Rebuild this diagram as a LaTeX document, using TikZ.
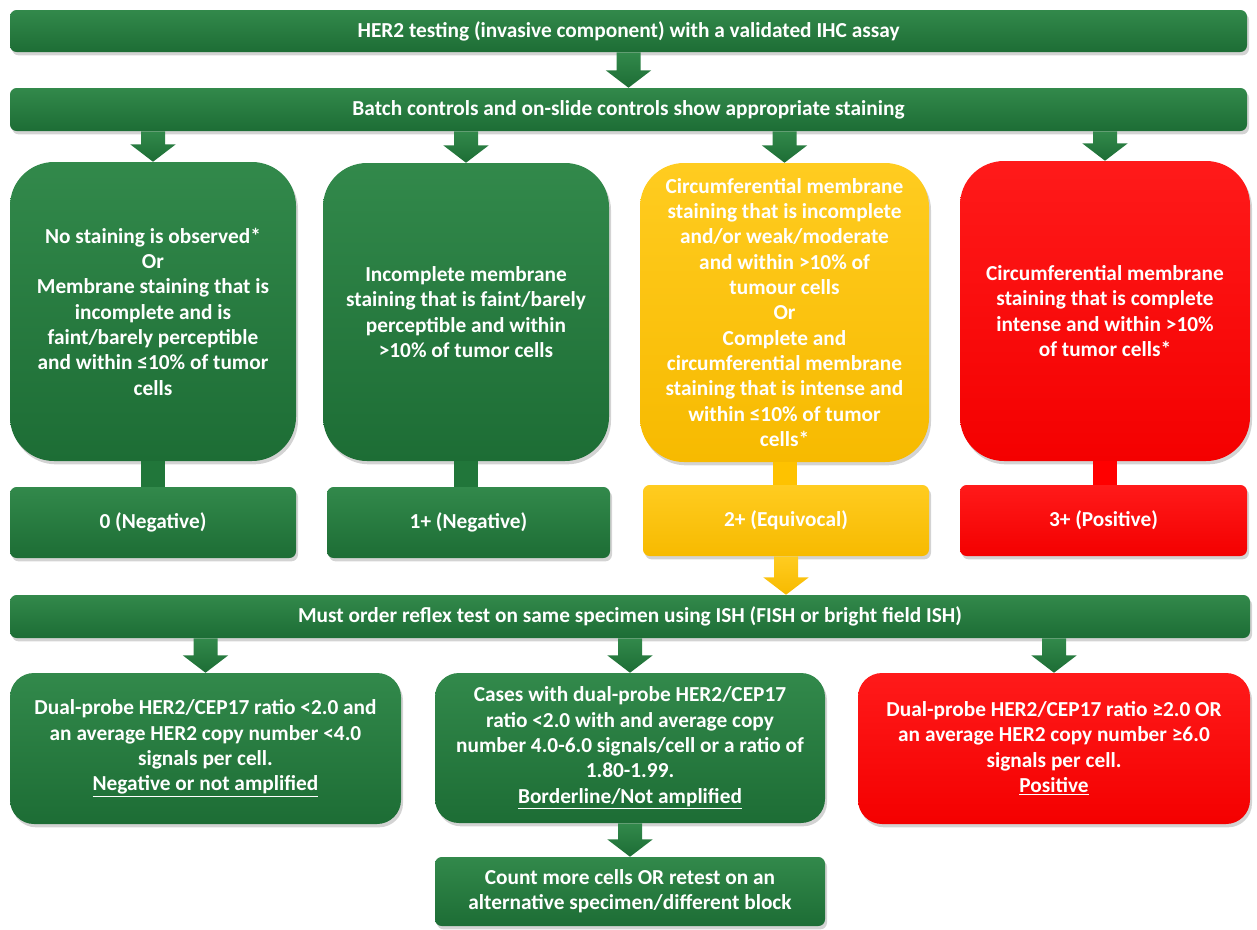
\documentclass[tikz,border=0pt]{standalone}
\usepackage{fontspec}
\setmainfont{Carlito}
\usetikzlibrary{calc,shadows}
\definecolor{gD}{HTML}{1D6D35}
\definecolor{gM}{HTML}{21763A}
\definecolor{gL}{HTML}{32894B}
\definecolor{yD}{HTML}{F7BA00}
\definecolor{yM}{HTML}{FEC200}
\definecolor{yL}{HTML}{FFCC20}
\definecolor{rD}{HTML}{F40000}
\definecolor{rM}{HTML}{FF0000}
\definecolor{rL}{HTML}{FF1A1A}
\tikzset{
  base/.style={text=white, font=\bfseries\fontsize{16}{19}\selectfont, align=center, inner sep=0pt,
    drop shadow={opacity=0.35, shadow xshift=1.5pt, shadow yshift=-2.5pt}},
  gfill/.style={top color=gL, middle color=gM, bottom color=gD},
  yfill/.style={top color=yL, middle color=yM, bottom color=yD},
  rfill/.style={top color=rL, middle color=rM, bottom color=rD},
  barbox/.style={base, gfill, rounded corners=5pt},
  bigbox/.style={base, rounded corners=33pt},
  resbox/.style={base, rounded corners=5pt},
  ishbox/.style={base, rounded corners=18pt},
  stem/.style={line width=18pt},
}
% box from pixel corners: name, x1, y1, x2, y2, style, text
\newcommand\pbox[7]{\node[#6, minimum width={(#4-#2)*0.75pt}, minimum height={(#5-#3)*0.75pt}] (#1) at ({(#2+#4)/2},{(#3+#5)/2}) {#7};}
% block arrow: style, top point, tip point
\newcommand\blk[3]{\path[#1] let \p1=(#2), \p2=(#3) in
  (\x1-9pt,\y1) -- (\x1+9pt,\y1) -- (\x1+9pt,\y2+13pt) -- (\x1+17pt,\y2+13pt) -- (\x1,\y2)
  -- (\x1-17pt,\y2+13pt) -- (\x1-9pt,\y2+13pt) -- cycle;}
\begin{document}
\begin{tikzpicture}[x=0.75pt,y=-0.75pt]
\useasboundingbox (0,0) rectangle (1257,929);

\pbox{bar1}{10}{10}{1247}{52}{barbox}{HER2 testing (invasive component) with a validated IHC assay}
\pbox{bar2}{10}{88}{1247}{131}{barbox}{Batch controls and on-slide controls show appropriate staining}

\pbox{box1}{10}{162}{296}{461}{bigbox,gfill}{No staining is observed*\\Or\\Membrane staining that is\\incomplete and is\\faint/barely perceptible\\and within ≤10\% of tumor\\cells}
\pbox{box2}{323}{163}{609}{461}{bigbox,gfill}{Incomplete membrane\\staining that is faint/barely\\perceptible and within\\>10\% of tumor cells}
\pbox{box3}{640}{163}{929}{462}{bigbox,yfill}{Circumferential membrane\\staining that is incomplete\\and/or weak/moderate\\and within >10\% of\\tumour cells\\Or\\Complete and\\circumferential membrane\\staining that is intense and\\within ≤10\% of tumor\\cells*}
\pbox{box4}{960}{161}{1250}{461}{bigbox,rfill}{Circumferential membrane\\staining that is complete\\intense and within >10\%\\of tumor cells*}

\pbox{res1}{10}{487}{296}{558}{resbox,gfill}{0 (Negative)}
\pbox{res2}{327}{487}{610}{558}{resbox,gfill}{1+ (Negative)}
\pbox{res3}{643}{485}{929}{556}{resbox,yfill}{2+ (Equivocal)}
\pbox{res4}{960}{485}{1247}{556}{resbox,rfill}{3+ (Positive)}

\pbox{bar3}{10}{595}{1250}{638}{barbox}{Must order reflex test on same specimen using ISH (FISH or bright field ISH)}

\pbox{ish1}{10}{673}{401}{824}{ishbox,gfill}{Dual-probe HER2/CEP17 ratio <2.0 and\\an average HER2 copy number <4.0\\signals per cell.\\\underline{Negative or not amplified}}
\pbox{ish2}{435}{673}{825}{823}{ishbox,gfill}{Cases with dual-probe HER2/CEP17\\ratio <2.0 with and average copy\\number 4.0-6.0 signals/cell or a ratio of\\1.80-1.99.\\\underline{Borderline/Not amplified}}
\pbox{ish3}{858}{673}{1250}{824}{ishbox,rfill}{Dual-probe HER2/CEP17 ratio ≥2.0 OR\\an average HER2 copy number ≥6.0\\signals per cell.\\\underline{Positive}}

\pbox{fin}{435}{857}{825}{926}{resbox,gfill}{Count more cells OR retest on an\\alternative specimen/different block}

% stems
\draw[stem, gM] (box1.south) -- (box1.south |- res1.north);
\draw[stem, gM] (box2.south) -- (box2.south |- res2.north);
\draw[stem, yM] (box3.south) -- (box3.south |- res3.north);
\draw[stem, rM] (box4.south) -- (box4.south |- res4.north);

% block arrows
\blk{gfill}{bar1.south}{bar2.north}
\blk{gfill}{box1.north |- bar2.south}{box1.north}
\blk{gfill}{box2.north |- bar2.south}{box2.north}
\blk{gfill}{box3.north |- bar2.south}{box3.north}
\blk{gfill}{box4.north |- bar2.south}{box4.north}
\blk{yfill}{res3.south}{bar3.north}
\blk{gfill}{ish1.north |- bar3.south}{ish1.north}
\blk{gfill}{ish2.north |- bar3.south}{ish2.north}
\blk{gfill}{ish3.north |- bar3.south}{ish3.north}
\blk{gfill}{ish2.south}{fin.north}
\end{tikzpicture}
\end{document}
